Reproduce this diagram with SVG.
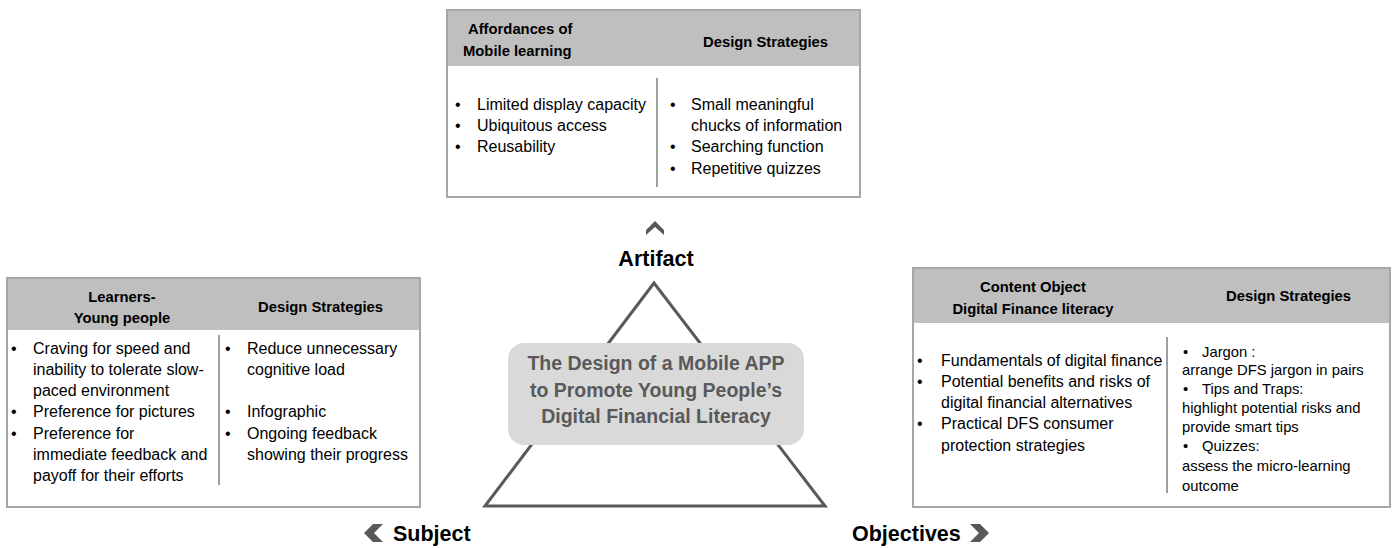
<svg xmlns="http://www.w3.org/2000/svg" width="1396" height="548" viewBox="0 0 1396 548">
  <style>
    .box { fill: #ffffff; stroke: #a6a6a6; stroke-width: 2; }
    .head { fill: #bfbfbf; }
    .div { stroke: #404040; stroke-width: 1; }
    .h { font-family: "Liberation Sans", Arial, sans-serif; font-weight: bold; font-size: 14.8px; fill: #000; }
    .t { font-family: "Liberation Sans", Arial, sans-serif; font-size: 16px; fill: #000; }
    .ts { font-family: "Liberation Sans", Arial, sans-serif; font-size: 14.8px; fill: #000; }
    .lab { font-family: "Liberation Sans", Arial, sans-serif; font-weight: bold; font-size: 21.5px; fill: #000; }
    .title { font-family: "Liberation Sans", Arial, sans-serif; font-weight: bold; font-size: 19.5px; fill: #595959; text-anchor: middle; }
    .chev { fill: #595959; }
  </style>

  <!-- triangle linking the three corners -->
  <g id="connectors">
    <polygon points="654,283 485,506 825,506" fill="none" stroke="#595959" stroke-width="3" stroke-linejoin="miter"/>
  </g>

  <!-- central topic -->
  <g id="node-center">
    <rect x="508" y="343" width="296" height="102" rx="16" ry="16" fill="#d9d9d9"/>
    <text class="title" x="656" y="370">The Design of a Mobile APP</text>
    <text class="title" x="656" y="397">to Promote Young People’s</text>
    <text class="title" x="656" y="423">Digital Financial Literacy</text>
  </g>

  <!-- corner labels -->
  <g id="label-artifact">
    <polygon class="chev" points="655,221 664,230 664,235 655,227 646,235 646,230"/>
    <text class="lab" x="656" y="266" text-anchor="middle">Artifact</text>
  </g>
  <g id="label-subject">
    <polygon class="chev" points="373,524 383,524 374,533 383,542 373,542 364,533"/>
    <text class="lab" x="393" y="541">Subject</text>
  </g>
  <g id="label-objectives">
    <text class="lab" x="852" y="541">Objectives</text>
    <polygon class="chev" points="970,524 980,524 989,533 980,542 970,542 979,533"/>
  </g>

  <!-- Artifact table -->
  <g id="node-artifact">
    <rect class="box" x="447" y="10" width="413" height="187"/>
    <rect class="head" x="448" y="11" width="411" height="55"/>
    <text class="h" x="468" y="34">Affordances of</text>
    <text class="h" x="463" y="56">Mobile learning</text>
    <text class="h" x="703" y="47">Design Strategies</text>
    <line class="div" x1="657" y1="78" x2="657" y2="187"/>
    <g class="t">
      <text x="455" y="110">•</text><text x="477" y="110">Limited display capacity</text>
      <text x="455" y="131">•</text><text x="477" y="131">Ubiquitous access</text>
      <text x="455" y="152">•</text><text x="477" y="152">Reusability</text>
      <text x="670" y="110">•</text><text x="691" y="110">Small meaningful</text>
      <text x="691" y="131">chucks of information</text>
      <text x="670" y="152">•</text><text x="691" y="152">Searching function</text>
      <text x="670" y="174">•</text><text x="691" y="174">Repetitive quizzes</text>
    </g>
  </g>

  <!-- Subject table -->
  <g id="node-subject">
    <rect class="box" x="7" y="278" width="413" height="229"/>
    <rect class="head" x="8" y="279" width="411" height="51"/>
    <text class="h" x="122" y="302" text-anchor="middle">Learners-</text>
    <text class="h" x="122" y="323" text-anchor="middle">Young people</text>
    <text class="h" x="258" y="312">Design Strategies</text>
    <line class="div" x1="219" y1="335" x2="219" y2="485"/>
    <g class="t">
      <text x="11" y="354">•</text><text x="33" y="354">Craving for speed and</text>
      <text x="33" y="375">inability to tolerate slow-</text>
      <text x="33" y="396">paced environment</text>
      <text x="11" y="417">•</text><text x="33" y="417">Preference for pictures</text>
      <text x="11" y="439">•</text><text x="33" y="439">Preference for</text>
      <text x="33" y="460">immediate feedback and</text>
      <text x="33" y="481">payoff for their efforts</text>
      <text x="225" y="354">•</text><text x="247" y="354">Reduce unnecessary</text>
      <text x="247" y="375">cognitive load</text>
      <text x="225" y="417">•</text><text x="247" y="417">Infographic</text>
      <text x="225" y="439">•</text><text x="247" y="439">Ongoing feedback</text>
      <text x="247" y="460">showing their progress</text>
    </g>
  </g>

  <!-- Objectives table -->
  <g id="node-objectives">
    <rect class="box" x="913" y="268" width="477" height="239"/>
    <rect class="head" x="914" y="269" width="475" height="54"/>
    <text class="h" x="1033" y="292" text-anchor="middle">Content Object</text>
    <text class="h" x="1033" y="314" text-anchor="middle">Digital Finance literacy</text>
    <text class="h" x="1226" y="301">Design Strategies</text>
    <line class="div" x1="1167" y1="337" x2="1167" y2="493"/>
    <g class="t">
      <text x="917" y="366">•</text><text x="941" y="366">Fundamentals of digital finance</text>
      <text x="917" y="387">•</text><text x="941" y="387">Potential benefits and risks of</text>
      <text x="941" y="408">digital financial alternatives</text>
      <text x="917" y="429">•</text><text x="941" y="429">Practical DFS consumer</text>
      <text x="941" y="451">protection strategies</text>
    </g>
    <g class="ts">
      <text x="1183" y="357">•</text><text x="1202" y="357">Jargon :</text>
      <text x="1182" y="375">arrange DFS jargon in pairs</text>
      <text x="1183" y="394">•</text><text x="1202" y="394">Tips and Traps:</text>
      <text x="1182" y="413">highlight potential risks and</text>
      <text x="1182" y="432">provide smart tips</text>
      <text x="1183" y="451">•</text><text x="1202" y="451">Quizzes:</text>
      <text x="1182" y="471">assess the micro-learning</text>
      <text x="1182" y="491">outcome</text>
    </g>
  </g>
</svg>
